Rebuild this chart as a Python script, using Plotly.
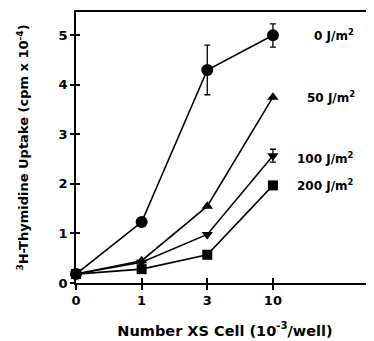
import plotly.graph_objects as go

x_labels = ["0", "1", "3", "10"]
x_pos = [0, 1, 2, 3]

dose_labels = ["0 J/m<sup>2</sup>", "50 J/m<sup>2</sup>", "100 J/m<sup>2</sup>", "200 J/m<sup>2</sup>"]
y_0 = [0.18, 1.23, 4.30, 5.00]
y_50 = [0.18, 0.45, 1.55, 3.75]
y_100 = [0.18, 0.42, 0.98, 2.57]
y_200 = [0.18, 0.28, 0.57, 1.97]

err_0_plus = [0, 0, 0.50, 0.23]
err_0_minus = [0, 0, 0.50, 0.24]
err_100 = [0, 0, 0, 0.13]

y_ticks = [0, 1, 2, 3, 4, 5]

font_family = "DejaVu Sans, Verdana, sans-serif"

fig = go.Figure()

series = [
    (y_0, "circle", 12, err_0_plus, err_0_minus),
    (y_50, "triangle-up", 10, None, None),
    (y_100, "triangle-down", 10, err_100, err_100),
    (y_200, "square", 10, None, None),
]

for ys, sym, sz, ep, em in series:
    tr = dict(
        x=x_pos, y=ys, mode="lines+markers",
        line=dict(color="black", width=1.6),
        marker=dict(symbol=sym, size=sz, color="black"),
        showlegend=False,
        cliponaxis=False,
    )
    if ep is not None:
        tr["error_y"] = dict(type="data", array=ep, arrayminus=em, symmetric=False,
                             color="black", thickness=1.3, width=3)
    fig.add_trace(go.Scatter(**tr))

# legend-like labels
label_x = [3.59, 3.49, 3.33, 3.33]
label_y = [y_0[-1], y_50[-1], y_100[-1] - 0.04, y_200[-1]]
for lx, ly, txt in zip(label_x, label_y, dose_labels):
    fig.add_annotation(x=lx, y=ly, text="<b>" + txt + "</b>", showarrow=False,
                       xanchor="left", yanchor="middle",
                       font=dict(family=font_family, size=12, color="black"))

# dummy traces for inside ticks
fig.add_trace(go.Scatter(x=[None], y=[None], xaxis="x2", yaxis="y2", showlegend=False))

xrange = [0, 4.54]
yrange = [0, 5.47]

fig.update_layout(
    width=374, height=341,
    margin=dict(l=68, r=8, t=4, b=66),
    plot_bgcolor="white", paper_bgcolor="white",
    font=dict(family=font_family, color="black"),
    xaxis=dict(
        range=xrange, tickmode="array", tickvals=x_pos, ticktext=["<b>%s</b>" % t for t in x_labels],
        showline=True, linecolor="black", linewidth=1.6, mirror=True,
        ticks="outside", ticklen=5, tickwidth=1.5, tickcolor="black",
        showgrid=False, zeroline=False, automargin=False,
        tickfont=dict(size=13, family=font_family),
        title=dict(text="<b>Number XS Cell (10<sup>-3</sup>/well)</b>", font=dict(size=14.5), standoff=18),
    ),
    yaxis=dict(
        range=yrange, tickmode="array", tickvals=y_ticks, ticktext=["<b>%d</b>" % t for t in y_ticks],
        showline=True, linecolor="black", linewidth=1.6, mirror=False,
        ticks="outside", ticklen=4, tickwidth=1.5, tickcolor="black",
        showgrid=False, zeroline=False, automargin=False,
        tickfont=dict(size=13, family=font_family),
        title=dict(text="<b><sup>3</sup>H-Thymidine Uptake (cpm x 10<sup>-4</sup>)</b>", font=dict(size=13), standoff=27),
    ),
    xaxis2=dict(range=xrange, overlaying="x", tickvals=x_pos, ticks="inside", ticklen=5,
                tickwidth=1.5, tickcolor="black", showticklabels=False, showgrid=False,
                zeroline=False, showline=False, side="bottom", automargin=False),
    yaxis2=dict(range=yrange, overlaying="y", tickvals=y_ticks, ticks="inside", ticklen=4,
                tickwidth=1.5, tickcolor="black", showticklabels=False, showgrid=False,
                zeroline=False, showline=False, side="left", automargin=False),
)

fig.write_html("out.html")
